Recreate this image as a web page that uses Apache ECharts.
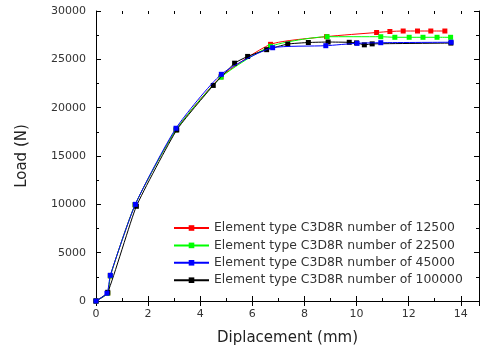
<!DOCTYPE html>
<html>
<head>
<meta charset="utf-8">
<script src="https://cdn.jsdelivr.net/npm/echarts@6/dist/echarts.min.js"></script>
<style>
  html, body { margin: 0; padding: 0; background: #fff; }
  #chart { width: 482px; height: 354px; }
</style>
</head>
<body>
<div id="chart"></div>
<script>
// displacement (mm), load (N)
const load12500 = [[0, 0], [0.45, 800], [0.55, 2600], [1.5, 9950], [3.07, 17700], [4.8, 23200], [6.7, 26550],
  [8.85, 27350], [10.77, 27775], [11.28, 27880], [11.79, 27930], [12.34, 27930], [12.85, 27930], [13.39, 27930]];
const load22500 = [[0, 0], [0.45, 800], [0.55, 2600], [1.5, 9950], [3.07, 17700], [4.8, 23150], [6.7, 26350],
  [8.87, 27340], [10.93, 27340], [11.47, 27280], [12.02, 27280], [12.55, 27280], [13.09, 27280], [13.61, 27280]];
const load45000 = [[0, 0], [0.42, 800], [0.55, 2660], [1.51, 10000], [3.07, 17870], [4.81, 23450], [6.78, 26200],
  [8.82, 26410], [10.02, 26660], [10.93, 26720], [13.63, 26770]];
const load100000 = [[0, 0], [0.45, 900], [1.55, 9800], [3.1, 17700], [4.5, 22300], [5.32, 24600], [5.82, 25300],
  [6.55, 26000], [7.36, 26580], [8.15, 26740], [8.91, 26790], [9.72, 26760], [10.0, 26700], [10.3, 26500],
  [10.6, 26600], [13.62, 26680]];

const seriesNames = [
  'Element type C3D8R number of 12500',
  'Element type C3D8R number of 22500',
  'Element type C3D8R number of 45000',
  'Element type C3D8R number of 100000'
];
const seriesColors = ['#ff0000', '#00ff00', '#0000ff', '#000000'];
const seriesData = [load12500, load22500, load45000, load100000];
const seriesZ = [2, 2, 4, 3];

const xMin = 0, xMax = 14.7, xStep = 2;
const yMin = 0, yMax = 30000, yStep = 5000;

const labelFont = { fontFamily: 'DejaVu Sans', fontSize: 11, color: '#333' };
const nameFont = { fontFamily: 'DejaVu Sans', fontSize: 15, color: '#222' };

function frameAxis(pos, step, tickLen, showLine) {
  return {
    type: 'value', position: pos, min: xMin, max: xMax, interval: step,
    axisLine: { show: showLine, lineStyle: { color: '#000', width: 1 } },
    axisTick: { show: true, inside: true, length: tickLen, lineStyle: { color: '#000' } },
    axisLabel: { show: false },
    splitLine: { show: false }
  };
}

const chart = echarts.init(document.getElementById('chart'), null, { renderer: 'canvas' });

const option = {
  animation: false,
  backgroundColor: '#fff',
  grid: { left: 96, right: 3, top: 11, bottom: 53, containLabel: false },
  legend: {
    orient: 'vertical',
    left: 173,
    top: 222,
    padding: 0,
    itemWidth: 35,
    itemHeight: 7,
    itemGap: 5.4,
    textStyle: { fontFamily: 'DejaVu Sans', fontSize: 12.4, color: '#333' },
    data: seriesNames
  },
  xAxis: [
    {
      type: 'value', position: 'bottom', min: xMin, max: xMax, interval: xStep,
      name: 'Diplacement (mm)', nameLocation: 'middle', nameGap: 30,
      nameTextStyle: nameFont,
      axisLine: { show: true, onZero: false, lineStyle: { color: '#000', width: 1 } },
      axisTick: { show: true, inside: true, length: 5, lineStyle: { color: '#000' } },
      axisLabel: Object.assign({ margin: 8, showMaxLabel: false }, labelFont),
      splitLine: { show: false }
    },
    frameAxis('bottom', 1, 3, false),
    frameAxis('top', xStep, 5, true),
    frameAxis('top', 1, 3, false)
  ],
  yAxis: [
    {
      type: 'value', position: 'left', min: yMin, max: yMax, interval: yStep,
      name: 'Load (N)', nameLocation: 'middle', nameGap: 66,
      nameTextStyle: nameFont,
      axisLine: { show: true, onZero: false, lineStyle: { color: '#000', width: 1 } },
      axisTick: { show: true, inside: true, length: 5, lineStyle: { color: '#000' } },
      minorTick: { show: true, splitNumber: 2, length: 3, lineStyle: { color: '#000' } },
      axisLabel: Object.assign({ margin: 10, formatter: v => String(v) }, labelFont),
      splitLine: { show: false }
    },
    {
      type: 'value', position: 'right', min: yMin, max: yMax, interval: yStep,
      axisLine: { show: true, onZero: false, lineStyle: { color: '#000', width: 1 } },
      axisTick: { show: true, inside: true, length: 5, lineStyle: { color: '#000' } },
      minorTick: { show: true, splitNumber: 2, length: 3, lineStyle: { color: '#000' } },
      axisLabel: { show: false },
      splitLine: { show: false }
    }
  ],
  series: seriesNames.map((name, i) => ({
    name: name,
    type: 'line',
    xAxisIndex: 0,
    yAxisIndex: 0,
    data: seriesData[i],
    smooth: i === 3 ? 0.15 : 0.2,
    symbol: 'rect',
    symbolSize: 5,
    showAllSymbol: true,
    z: seriesZ[i],
    color: seriesColors[i],
    itemStyle: { color: seriesColors[i] },
    lineStyle: { color: seriesColors[i], width: 1 }
  }))
};

chart.setOption(option);
</script>
</body>
</html>
